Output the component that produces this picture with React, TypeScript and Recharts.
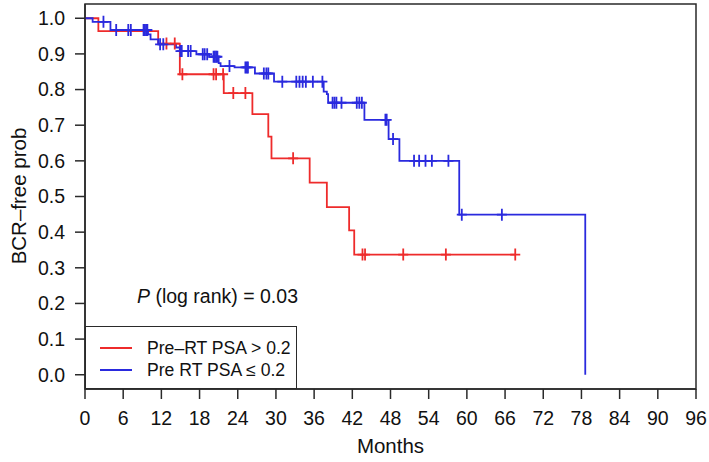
import { ComposedChart, Line, Scatter, XAxis, YAxis, ReferenceArea, Legend } from 'recharts';

// x axis ticks (months) and y axis ticks (probability)
const monthTicks = [0, 6, 12, 18, 24, 30, 36, 42, 48, 54, 60, 66, 72, 78, 84, 90, 96];
const probTicks = [0, 0.1, 0.2, 0.3, 0.4, 0.5, 0.6, 0.7, 0.8, 0.9, 1.0];

// Pre-RT PSA > 0.2 : step times and survival after each step
const redTimes = [0, 2.1, 11.5, 14.9, 21.8, 26.3, 28.8, 29.3, 35.3, 38.0, 41.5, 42.3, 67.6];
const redSurv = [1.0, 0.964, 0.929, 0.843, 0.79, 0.731, 0.668, 0.607, 0.539, 0.47, 0.405, 0.337, 0.337];
const redCensored = [12.8, 14.1, 15.3, 20.2, 20.6, 21.7, 23.3, 25.2, 32.7, 43.6, 44.0, 50.0, 56.7, 67.6];

// Pre RT PSA <= 0.2
const blueTimes = [0, 1.2, 4.0, 9.9, 10.3, 11.5, 14.3, 14.9, 17.5, 19.5, 21.0, 21.3, 23.5, 26.7, 29.7, 37.5, 38.0, 38.2, 43.9, 47.7, 49.4, 58.8, 78.6];
const blueSurv = [1.0, 0.99, 0.967, 0.955, 0.941, 0.927, 0.918, 0.908, 0.899, 0.892, 0.874, 0.866, 0.862, 0.845, 0.822, 0.794, 0.787, 0.763, 0.715, 0.661, 0.6, 0.449, 0.0];
const blueCensored = [
  2.9, 4.9, 6.8, 7.2, 9.2, 9.4, 9.6, 9.8, 11.8, 12.3, 15.0, 15.2, 16.2, 16.6, 18.5, 18.8, 19.2,
  20.2, 20.4, 20.6, 20.8, 22.7, 25.2, 25.4, 25.6, 28.1, 28.5, 28.8, 31.0, 33.2, 33.7, 34.2, 34.7,
  35.8, 37.3, 38.9, 39.2, 39.5, 40.3, 42.7, 43.1, 43.5, 47.2, 47.4, 48.4, 51.7, 52.5, 53.5, 54.5,
  57.1, 59.2, 65.5,
];

const RED = '#ee2b2b';
const BLUE = '#2a2ade';
const AXIS = '#2a2a2a';
const FONT = '"Liberation Sans", Arial, Helvetica, sans-serif';

const series = [
  { name: 'Pre–RT PSA > 0.2', color: RED },
  { name: 'Pre RT PSA ≤ 0.2', color: BLUE },
];

const toSteps = (times: number[], surv: number[]) => times.map((t, i) => ({ t, s: surv[i] }));
const survAt = (steps: { t: number; s: number }[], t: number) => {
  let s = steps[0].s;
  for (const p of steps) if (p.t <= t) s = p.s;
  return s;
};

const redSteps = toSteps(redTimes, redSurv);
const blueSteps = toSteps(blueTimes, blueSurv);
const redMarks = redCensored.map((t) => ({ t, s: survAt(redSteps, t) }));
const blueMarks = blueCensored.map((t) => ({ t, s: survAt(blueSteps, t) }));

const plus = (color: string) => (props: any) => {
  const { cx, cy } = props;
  return <path d={`M${cx - 5},${cy}H${cx + 5}M${cx},${cy - 6}V${cy + 6}`} stroke={color} strokeWidth={1.8} fill="none" />;
};

function LegendBox() {
  return (
    <div
      style={{
        boxSizing: 'border-box',
        width: 212,
        height: 63,
        border: `1.5px solid ${AXIS}`,
        background: '#fff',
        position: 'relative',
        fontFamily: FONT,
        fontSize: 17.6,
        color: '#111',
      }}
    >
      {series.map((s, i) => (
        <div key={s.name} style={{ position: 'absolute', left: 0, top: 21 + i * 21.6 - 10, height: 20, display: 'flex', alignItems: 'center' }}>
          <span style={{ display: 'inline-block', marginLeft: 14, width: 32, height: 2, background: s.color }} />
          <span style={{ marginLeft: 15, whiteSpace: 'nowrap', lineHeight: '20px' }}>{s.name}</span>
        </div>
      ))}
    </div>
  );
}

export default function App() {
  const tickStyle = { fontSize: 19.5, fontFamily: FONT, fill: '#111' };
  return (
    <div style={{ position: 'absolute', left: 0, top: 0, width: 709, height: 462, background: '#fff' }}>
      <ComposedChart width={709} height={462} margin={{ top: 4, right: 13, left: 0, bottom: 0 }}>
        <XAxis
          dataKey="t"
          type="number"
          domain={[0, 96]}
          ticks={monthTicks}
          interval={0}
          height={73}
          tickSize={10}
          tickMargin={12}
          tick={tickStyle}
          stroke={AXIS}
          strokeWidth={1.5}
          allowDataOverflow
          label={{
            content: () => (
              <text x={390.5} y={445} textAnchor="middle" dominantBaseline="central" fontSize={20.5} fontFamily={FONT} fill="#111">
                Months
              </text>
            ),
          }}
        />
        <YAxis
          type="number"
          domain={[-0.04, 1.04]}
          ticks={probTicks}
          interval={0}
          width={85}
          tickSize={10}
          tickMargin={10}
          tick={tickStyle}
          tickFormatter={(v: number) => v.toFixed(1)}
          stroke={AXIS}
          strokeWidth={1.5}
          allowDataOverflow
          label={{
            content: () => (
              <text
                x={18}
                y={196}
                transform="rotate(-90 18 196)"
                textAnchor="middle"
                dominantBaseline="central"
                fontSize={20.5}
                fontFamily={FONT}
                fill="#111"
              >
                BCR–free prob
              </text>
            ),
          }}
        />
        <ReferenceArea x1={0} x2={96} y1={-0.04} y2={1.04} fill="none" fillOpacity={0} stroke={AXIS} strokeWidth={1.5} ifOverflow="visible" />
        <Line data={redSteps} dataKey="s" type="stepAfter" stroke={RED} strokeWidth={1.8} dot={false} activeDot={false} isAnimationActive={false} legendType="none" />
        <Line data={blueSteps} dataKey="s" type="stepAfter" stroke={BLUE} strokeWidth={1.8} dot={false} activeDot={false} isAnimationActive={false} legendType="none" />
        <Scatter data={redMarks} dataKey="s" shape={plus(RED)} isAnimationActive={false} legendType="none" />
        <Scatter data={blueMarks} dataKey="s" shape={plus(BLUE)} isAnimationActive={false} legendType="none" />
        <Legend
          layout="vertical"
          align="center"
          verticalAlign="middle"
          content={() => <LegendBox />}
          wrapperStyle={{ left: 85, top: 326, width: 212, height: 63, margin: 0 }}
        />
      </ComposedChart>
      <div style={{ position: 'absolute', left: 137, top: 285, fontFamily: FONT, fontSize: 19.5, lineHeight: '22px', color: '#111', whiteSpace: 'nowrap' }}>
        <i>P</i> (log rank) = 0.03
      </div>
    </div>
  );
}
